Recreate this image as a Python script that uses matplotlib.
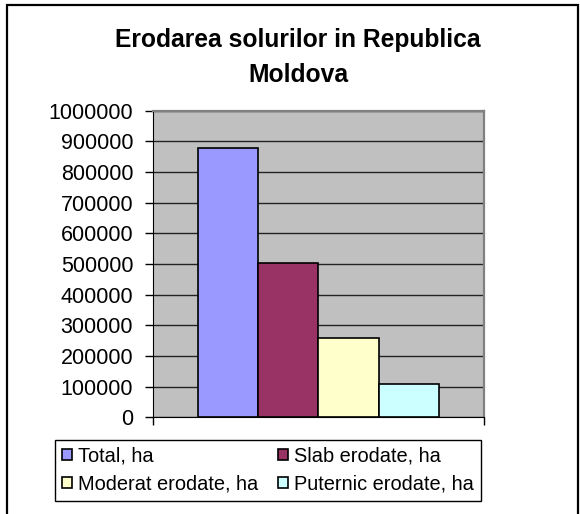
import matplotlib.pyplot as plt
from matplotlib.patches import Rectangle

# chart data
categories = ["Total, ha", "Slab erodate, ha", "Moderat erodate, ha", "Puternic erodate, ha"]
values = [878000, 504000, 259000, 110000]
colors = ["#9999FF", "#993366", "#FFFFCC", "#CCFFFF"]
yticks = [0, 100000, 200000, 300000, 400000, 500000, 600000, 700000, 800000, 900000, 1000000]
title_lines = ["Erodarea solurilor in Republica", "Moldova"]

plt.rcParams["font.family"] = ["Liberation Sans", "DejaVu Sans"]

W, H = 580, 514
fig = plt.figure(figsize=(W / 100, H / 100), dpi=100)

# plot area (pixel coords from the reference)
left, right, top, bottom = 152.5, 484, 110.7, 417.3
ax = fig.add_axes([left / W, 1 - bottom / H, (right - left) / W, (bottom - top) / H])
ax.set_facecolor("#C0C0C0")

# bars of one group, excel style gap width 150%
w = 1 / 5.5
bars = []
for i, (cat, val, col) in enumerate(zip(categories, values, colors)):
    x = -2 * w + w / 2 + i * w
    b = ax.bar(x, val, width=w, color=col, edgecolor="black", linewidth=1.2, label=cat, zorder=3)
    bars.append(b)

ax.set_xlim(-0.5, 0.5)
ax.set_ylim(0, 1000000)
ax.set_yticks(yticks)
ax.set_yticklabels([str(t) for t in yticks], fontsize=15.5)
ax.set_xticks([-0.5, 0.5])
ax.set_xticklabels(["", ""])
ax.tick_params(axis="y", direction="out", length=5.5, width=1, color="black", pad=8.4)
ax.tick_params(axis="x", direction="out", length=5.8, width=1, color="black")
ax.yaxis.grid(True, color="#222222", linewidth=1, zorder=1)
ax.set_axisbelow(True)

ax.spines["left"].set_color("black")
ax.spines["bottom"].set_color("black")
ax.spines["top"].set_color("#808080")
ax.spines["right"].set_color("#808080")
ax.spines["top"].set_linewidth(1.6)
ax.spines["right"].set_linewidth(1.6)

# title, two lines
fig.text(0.514, 1 - 47.3 / H, title_lines[0], ha="center", va="baseline", fontsize=17.7, fontweight="bold")
fig.text(0.514, 1 - 81.7 / H, title_lines[1], ha="center", va="baseline", fontsize=17.7, fontweight="bold")

# legend, row-wise order
order = [0, 2, 1, 3]
leg = fig.legend([bars[i] for i in order], [categories[i] for i in order],
                 ncol=2, loc="center", bbox_to_anchor=(268 / W, 1 - 470 / H),
                 fontsize=14.4, frameon=True, fancybox=False, framealpha=1,
                 edgecolor="black", handlelength=0.5, handleheight=0.5,
                 handletextpad=0.3, columnspacing=1.0, borderpad=0.35,
                 labelspacing=0.45, borderaxespad=0)
leg.get_frame().set_linewidth(1)

# outer chart border
fig.add_artist(Rectangle((7 / W, -0.1), (578 - 7) / W, 1.1 - 5.5 / H,
                         transform=fig.transFigure, fill=False, edgecolor="black", linewidth=1.6))

fig.savefig("out.png", dpi=100)
